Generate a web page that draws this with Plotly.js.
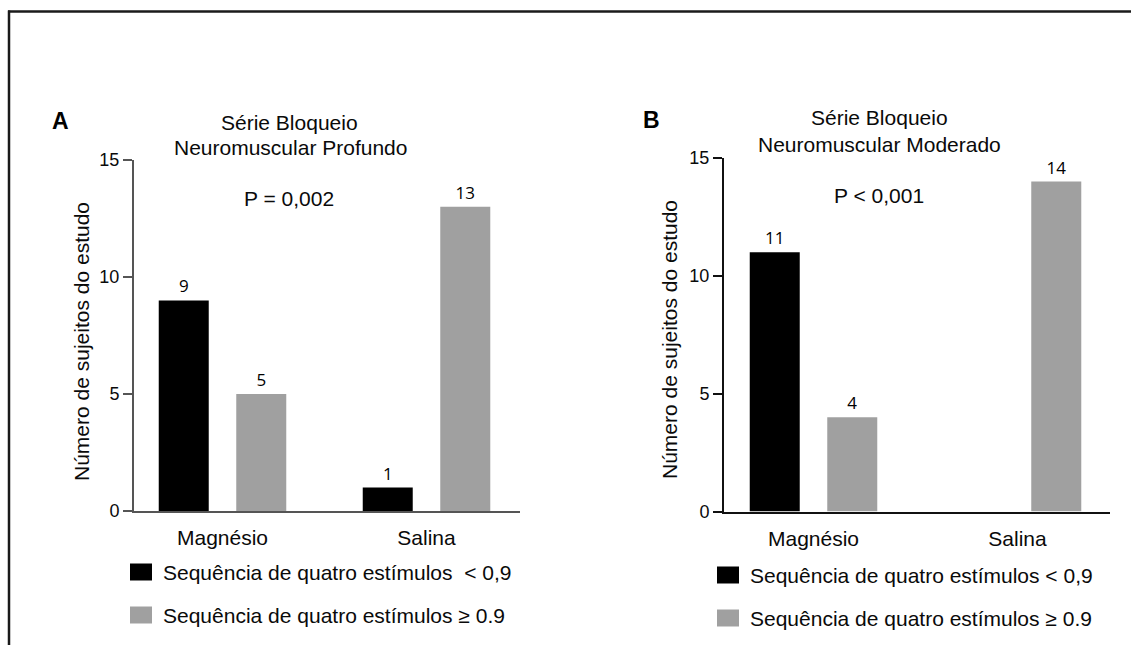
<!DOCTYPE html>
<html><head><meta charset="utf-8">
<script src="https://cdn.plot.ly/plotly-3.0.1.min.js"></script>
<style>html,body{margin:0;padding:0;background:#fff}#chart{width:1131px;height:645px}</style>
</head><body><div id="chart"></div>
<script>
// ---- data ----
const categories = ["Magnésio", "Salina"];
const seriesNamesA = ["Sequência de quatro estímulos \u00a0< 0,9", "Sequência de quatro estímulos ≥ 0.9"];
const seriesNamesB = ["Sequência de quatro estímulos < 0,9", "Sequência de quatro estímulos ≥ 0.9"];
const profundoLow = [9, 1];
const profundoHigh = [5, 13];
const moderadoLow = [11, 0];
const moderadoHigh = [4, 14];
const yTicks = [0, 5, 10, 15];
const panelLetters = ["A", "B"];
const titlesA = ["Série Bloqueio", "Neuromuscular Profundo"];
const titlesB = ["Série Bloqueio", "Neuromuscular Moderado"];
const pValues = ["P = 0,002", "P < 0,001"];
const yTitle = "Número de sujeitos do estudo";
const seriesColors = ["#000000", "#a0a0a0"];

// ---- helpers ----
const W = 1131, H = 645;
const px = x => x / W;
const py = y => 1 - y / H;
const FONT = "Liberation Sans, Arial, sans-serif";

function barTrace(vals, color, xa, ya) {
  return {
    type: "bar", x: categories, y: vals, xaxis: xa, yaxis: ya,
    marker: {color: color, line: {width: 0}},
    text: vals.map(v => v > 0 ? String(v) : ""),
    textposition: "outside", constraintext: "none", cliponaxis: false,
    textfont: {family: "Open Sans, sans-serif", size: 17, color: "#000"},
    showlegend: false, hoverinfo: "none"
  };
}

const data = [
  barTrace(profundoLow, seriesColors[0], "x", "y"),
  barTrace(profundoHigh, seriesColors[1], "x", "y"),
  barTrace(moderadoLow, seriesColors[0], "x2", "y2"),
  barTrace(moderadoHigh, seriesColors[1], "x2", "y2")
];

function xAxis(dom, rng, col, anchor) {
  return {
    domain: dom, range: rng, anchor: anchor, type: "category",
    showline: true, linecolor: col, linewidth: 2, ticks: "",
    showgrid: false, zeroline: false, fixedrange: true,
    tickfont: {family: FONT, size: 21, color: "#0a0a0a"}, ticklabelstandoff: 7
  };
}
function yAxis(dom, col, anchor) {
  return {
    domain: dom, range: [0, 15], anchor: anchor,
    tickmode: "array", tickvals: yTicks, ticktext: yTicks.map(String),
    ticks: "outside", ticklen: 9, tickwidth: 2, tickcolor: col,
    showline: true, linecolor: col, linewidth: 2,
    showgrid: false, zeroline: false, fixedrange: true,
    tickfont: {family: FONT, size: 18, color: "#0a0a0a"}
  };
}

const ann = [];
function txt(t, x, y, size, opts) {
  ann.push(Object.assign({
    text: t, x: px(x), y: py(y), xref: "paper", yref: "paper",
    showarrow: false, xanchor: "center", yanchor: "middle",
    font: {family: FONT, size: size, color: "#0a0a0a"}
  }, opts || {}));
}
// Panel A texts
txt("<b>" + panelLetters[0] + "</b>", 60.5, 121, 22, {font: {family: FONT, size: 23, color: "#000"}});
txt(titlesA[0], 289, 122, 21);
txt(titlesA[1], 290, 147, 21);
txt(pValues[0], 289, 199, 21);
txt(yTitle, 81, 342, 21, {textangle: -90});
// Panel B texts
txt("<b>" + panelLetters[1] + "</b>", 651, 120, 22, {font: {family: FONT, size: 23, color: "#000"}});
txt(titlesB[0], 879, 118, 21);
txt(titlesB[1], 879, 144.5, 21);
txt(pValues[1], 878.5, 195, 21);
txt(yTitle, 669, 340, 21, {textangle: -90});

// legends (manual swatches)
const shapes = [];
function legendRows(names, x0, rows) {
  names.forEach((n, i) => {
    const r = rows[i];
    shapes.push({type: "rect", xref: "paper", yref: "paper",
      x0: px(x0), x1: px(x0 + 22), y0: py(r - 8.5), y1: py(r + 8.5),
      fillcolor: seriesColors[i], line: {width: 0}});
    txt(n, x0 + 31, r, 21, {xanchor: "left"});
  });
}
legendRows(seriesNamesA, 130, [572, 615]);
legendRows(seriesNamesB, 717, [575, 618]);

// outer frame
shapes.push({type: "line", xref: "paper", yref: "paper", x0: px(8), x1: px(1131), y0: py(11.5), y1: py(11.5), line: {color: "#1a1a1a", width: 2.5}});
shapes.push({type: "line", xref: "paper", yref: "paper", x0: px(9), x1: px(9), y0: py(10.5), y1: py(645), line: {color: "#1a1a1a", width: 2.5}});

const layout = {
  width: W, height: H, margin: {l: 0, r: 0, t: 0, b: 0},
  paper_bgcolor: "#fff", plot_bgcolor: "#fff",
  barmode: "group", bargap: 0.24, bargroupgap: 0.355,
  showlegend: false,
  xaxis: xAxis([px(134), px(520)], [-0.4338, 1.4583], "#555", "y"),
  yaxis: yAxis([py(511), py(160)], "#555", "x"),
  xaxis2: xAxis([px(724), px(1110)], [-0.4387, 1.4534], "#111", "y2"),
  yaxis2: yAxis([py(511.5), py(158)], "#111", "x2"),
  annotations: ann, shapes: shapes,
  font: {family: FONT}
};

Plotly.newPlot("chart", data, layout, {displayModeBar: false, staticPlot: true});
</script></body></html>
